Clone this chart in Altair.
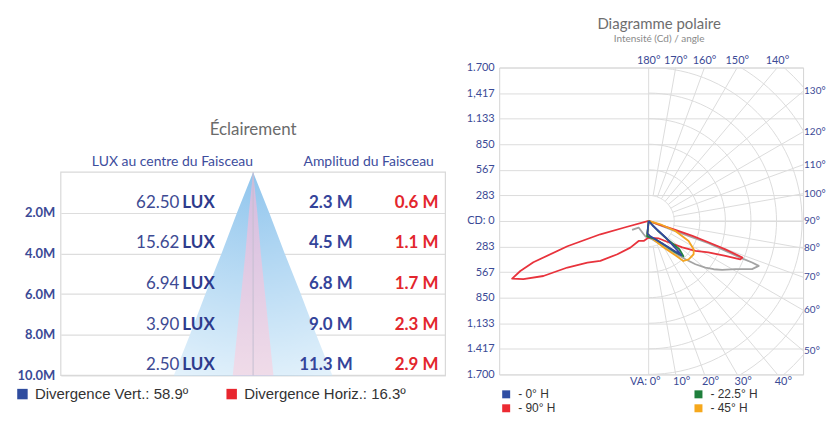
import json
import altair as alt
import pandas as pd
import numpy as np

# ---------------- Left panel: Éclairement ----------------
DIST_M = [2, 4, 6, 8, 10]
LUX_CENTRE = ["62.50", "15.62", "6.94", "3.90", "2.50"]
AMP_VERT_M = [2.3, 4.5, 6.8, 9.0, 11.3]
AMP_HORIZ_M = [0.6, 1.1, 1.7, 2.3, 2.9]
DIV_LABELS = ["Divergence Vert.: 58.9º", "Divergence Horiz.: 16.3º"]
DIV_COLORS = ["#2f4c9f", "#e8262e"]
HEADERS = ["LUX au centre du Faisceau", "Amplitud du Faisceau"]

# ---------------- Right panel: Diagramme polaire ----------------
CD_MAX = 1700
CD_TICK_LABELS = ["1.700", "1.417", "1,133", "850", "567", "283", "CD: 0",
                  "283", "567", "850", "1.133", "1,417", "1.700"]  # bottom -> top
TOP_ANG = [180, 170, 160, 150, 140]
TOP_LBL = ["180°", "170°", "160°", "150°", "140°"]
RIGHT_ANG = [130, 120, 110, 100, 90, 80, 70, 60, 50]
RIGHT_LBL = ["130°", "120°", "110°", "100°", "90°", "80°", "70°", "60°", "50°"]
BOTTOM_ANG = [0, 10, 20, 30, 40]
BOTTOM_LBL = ["VA: 0°", "10°", "20°", "30°", "40°"]
RADIAL_DEG = list(range(0, 181, 10))
N_RINGS = 8

SERIES = ["- 0° H", "- 22.5° H", "- 90° H", "- 45° H", "autre"]
SERIES_COLORS = ["#34489e", "#23843f", "#e8333c", "#f4a521", "#a3a3a3"]
LEGEND_SERIES = SERIES[:4]
LEGEND_COLORS = ["#2f4ea3", "#1f7f3c", "#ec2a32", "#f6a81c"]

# polar curves: angle (deg, from nadir, negative = left half) and intensity (cd)
GREY_ANG = [-61.5, -56.6, -20.6, -12.2, 10.5, 21.5, 32.4, 39.6, 43.8, 47.2, 50.6, 53.4,
            56.3, 60.9, 65.0, 67.8, 68.1, 68.2, 69.5, 68.9, 90]
GREY_CD = [209, 133, 157, 174, 206, 254, 345, 464, 588, 706, 813, 897,
           978, 1099, 1264, 1317, 1235, 1114, 706, 317, 0]
RED_ANG = [-90, -74.9, -74.6, -72.7, -70.3, -68.7, -67.1, -65.1, -62.4, -60.2, -55.8,
           -50.4, -43.2, -34.5, -26.6, -14, 0, 29.3, 42.8, 52, 57.3, 62.3, 65.5, 67.3,
           68.7, 69.7, 70.4, 71.1, 71.4, 71.2, 90]
RED_CD = [0, 267, 555, 943, 1357, 1526, 1642, 1531, 1316, 1038, 821,
          695, 506, 358, 248, 228, 184, 220, 321, 474, 615, 747, 934, 1101,
          1115, 906, 702, 512, 312, 114, 0]
ORANGE_ANG = [0, -5.2, 14.4, 29.2, 37.9, 40.9, 46.2, 53.5, 57.8, 63.4, 69.5, 74.2, 0]
ORANGE_CD = [0, 160, 209, 334, 482, 587, 614, 620, 589, 495, 316, 135, 0]
GREEN_ANG = [0, -6, 20.1, 35, 40.5, 44.5, 47.3, 45.6, 43.1, 0]
GREEN_CD = [0, 171, 216, 342, 456, 549, 463, 290, 141, 0]
BLUE_ANG = [0, 40.7, 45.7, 44.4, 43.6, 40.1, 28.8, 6.3, -6, 0]
BLUE_CD = [0, 63, 258, 470, 525, 425, 269, 171, 137, 0]

# ---------------- styling ----------------
BLUE_TXT = "#34449a"
RED_TXT = "#e3262d"
AXIS_BLUE = "#3b4a96"
GRID = "#dcdcdc"

LEFT_W, LEFT_H = 386, 309
RIGHT_W, RIGHT_H = 305, 308

# ================= LEFT CHART =================
x_l = alt.Scale(domain=[-13.7, 13.7], nice=False, zero=False)
y_l = alt.Scale(domain=[0, 10], range=[105, 309], nice=False, zero=False)
ax_l = alt.Axis(values=DIST_M, labelExpr="format(datum.value, '.1f') + 'M'", grid=True,
                gridColor="#dddddd", gridWidth=1.2, domain=False, ticks=False,
                labelPadding=6, labelFont="Lato", labelFontSize=13,
                labelFontWeight="bold", labelColor=AXIS_BLUE, title=None)


def Yl(f):
    return alt.Y(f, scale=y_l, axis=ax_l)


def Xl(f):
    return alt.X(f, scale=x_l, axis=None)


tri = pd.DataFrame({
    "depth": [0] + DIST_M,
    "amp_v": [0] + AMP_VERT_M,
    "amp_h": [0] + AMP_HORIZ_M,
})
rows = pd.DataFrame({
    "dist": DIST_M,
    "lux": LUX_CENTRE,
    "amp_v": [f"{v:.1f} M" for v in AMP_VERT_M],
    "amp_h": [f"{v:.1f} M" for v in AMP_HORIZ_M],
})
box_df = pd.DataFrame({"top": [0], "bottom": [max(DIST_M)]})

box = alt.Chart(box_df).mark_rect(fillOpacity=0, stroke="#d9d9d9", strokeWidth=1.2).encode(
    y=Yl("top:Q"), y2="bottom:Q", x=alt.value(0), x2=alt.value(LEFT_W))

blue_grad = alt.RadialGradient(gradient="radial", x1=0.5, y1=0, r1=0, x2=0.5, y2=0, r2=1.05,
                               stops=[alt.GradientStop(offset=0, color="#90c5ed"),
                                      alt.GradientStop(offset=1, color="#e2f1fb")])
pink_grad = alt.RadialGradient(gradient="radial", x1=0.5, y1=0, r1=0, x2=0.5, y2=0, r2=1.05,
                               stops=[alt.GradientStop(offset=0, color="#d3bade"),
                                      alt.GradientStop(offset=1, color="#f1dde9")])

tri_v = alt.Chart(tri).transform_calculate(
    xl="-datum.amp_v / 2", xr="datum.amp_v / 2"
).mark_area(orient="horizontal", color=blue_grad).encode(
    y=Yl("depth:Q"), x=Xl("xl:Q"), x2="xr:Q")
tri_h = alt.Chart(tri).transform_calculate(
    xl="-datum.amp_h / 2", xr="datum.amp_h / 2"
).mark_area(orient="horizontal", color=pink_grad).encode(
    y=Yl("depth:Q"), x=Xl("xl:Q"), x2="xr:Q")
axis_line = alt.Chart(tri).transform_calculate(c="0").mark_line(
    color="#c4bfd2", strokeWidth=1).encode(y=Yl("depth:Q"), x=Xl("c:Q"))

lux_num = alt.Chart(rows).mark_text(align="right", baseline="alphabetic", dy=-5,
                                    font="Lato", fontSize=17, color="#3d4a93").encode(
    y=Yl("dist:Q"), x=alt.value(119), text="lux:N")
lux_unit = alt.Chart(rows).mark_text(align="left", baseline="alphabetic", dy=-5,
                                     font="Lato", fontSize=17, fontWeight="bold",
                                     color="#2e3b8c").encode(
    y=Yl("dist:Q"), x=alt.value(122), text=alt.value("LUX"))
amp_v_txt = alt.Chart(rows).mark_text(align="right", baseline="alphabetic", dy=-5,
                                      font="Lato", fontSize=17, fontWeight="bold",
                                      color=BLUE_TXT).encode(
    y=Yl("dist:Q"), x=alt.value(293), text="amp_v:N")
amp_h_txt = alt.Chart(rows).mark_text(align="right", baseline="alphabetic", dy=-5,
                                      font="Lato", fontSize=17, fontWeight="bold",
                                      color=RED_TXT).encode(
    y=Yl("dist:Q"), x=alt.value(379), text="amp_h:N")

hdr_df = pd.DataFrame({"h": HEADERS})
hdr1 = alt.Chart(hdr_df).transform_filter(alt.datum.h == HEADERS[0]).mark_text(
    font="Lato", fontSize=14, color="#3d4d9d", baseline="middle").encode(
    x=alt.value(112), y=alt.value(95), text="h:N")
hdr2 = alt.Chart(hdr_df).transform_filter(alt.datum.h == HEADERS[1]).mark_text(
    font="Lato", fontSize=14, color="#3d4d9d", baseline="middle").encode(
    x=alt.value(309), y=alt.value(95), text="h:N")
ttl_l = alt.Chart(pd.DataFrame({"t": ["Éclairement"]})).mark_text(
    font="Lato", fontSize=17, color="#6b6b6b", baseline="middle").encode(
    x=alt.value(LEFT_W / 2), y=alt.value(63), text="t:N")

leg_l = alt.Chart(pd.DataFrame({"lbl": DIV_LABELS})).mark_square(opacity=0).encode(
    fill=alt.Fill("lbl:N", scale=alt.Scale(domain=DIV_LABELS, range=DIV_COLORS),
                  legend=alt.Legend(orient="none", legendX=-46, legendY=320,
                                    direction="horizontal", title=None,
                                    symbolType="square", symbolSize=110,
                                    symbolOpacity=1, symbolStrokeWidth=0,
                                    labelFont="Liberation Sans", labelFontSize=15,
                                    labelColor="#333333", columnPadding=36,
                                    labelLimit=400, padding=0, labelOffset=5)))

left = alt.layer(box, tri_v, tri_h, axis_line, lux_num, lux_unit, amp_v_txt, amp_h_txt,
                 hdr1, hdr2, ttl_l, leg_l).properties(
    width=LEFT_W, height=LEFT_H, view=alt.ViewBackground(stroke=None))

# ================= RIGHT CHART =================
X_MIN, X_MAX = -1656, 1711
x_r = alt.Scale(domain=[X_MIN, X_MAX], nice=False, zero=False)
y_r = alt.Scale(domain=[-CD_MAX, CD_MAX], nice=False, zero=False)
step = CD_MAX / 6
tick_vals = [k * step for k in range(-6, 7)]
ax_r = alt.Axis(values=tick_vals,
                labelExpr=json.dumps(CD_TICK_LABELS) + f"[round(datum.value / {step} + 6)]",
                grid=True, gridColor=GRID, gridWidth=1, domain=False, ticks=False,
                labelPadding=5, labelFont="Lato", labelFontSize=11,
                labelColor=AXIS_BLUE, title=None)


def Yr(f):
    return alt.Y(f, scale=y_r, axis=ax_r)


def Xr(f):
    return alt.X(f, scale=x_r, axis=None)


ring_rows = []
for k in range(1, N_RINGS + 1):
    for a in range(0, 181, 3):
        ring_rows.append({"ring": k, "a": a, "r": k * step})
rings_df = pd.DataFrame(ring_rows)
rings = alt.Chart(rings_df).transform_calculate(
    x="datum.r * sin(datum.a * PI / 180)", y="-datum.r * cos(datum.a * PI / 180)"
).mark_line(clip=True, color=GRID, strokeWidth=1).encode(
    x=Xr("x:Q"), y=Yr("y:Q"), detail="ring:N", order="a:Q")

rad_df = pd.DataFrame({"a": RADIAL_DEG})
radials = alt.Chart(rad_df).transform_calculate(
    r0=f"(datum.a % 90 == 0) ? 0 : {step}", r1=f"{4 * CD_MAX}"
).transform_calculate(
    x="datum.r0 * sin(datum.a * PI / 180)", y="-datum.r0 * cos(datum.a * PI / 180)",
    x2="datum.r1 * sin(datum.a * PI / 180)", y2="-datum.r1 * cos(datum.a * PI / 180)"
).mark_rule(clip=True, color=GRID, strokeWidth=1).encode(
    x=Xr("x:Q"), y=Yr("y:Q"), x2="x2:Q", y2="y2:Q")

curve_rows = []
for name, angs, cds in [("autre", GREY_ANG, GREY_CD), ("- 90° H", RED_ANG, RED_CD),
                        ("- 45° H", ORANGE_ANG, ORANGE_CD), ("- 22.5° H", GREEN_ANG, GREEN_CD),
                        ("- 0° H", BLUE_ANG, BLUE_CD)]:
    for i, (a, c) in enumerate(zip(angs, cds)):
        curve_rows.append({"serie": name, "i": i, "a": a, "cd": c})
curves_df = pd.DataFrame(curve_rows)
curves = alt.Chart(curves_df).transform_calculate(
    x="datum.cd * sin(datum.a * PI / 180)", y="-datum.cd * cos(datum.a * PI / 180)"
).mark_line(strokeWidth=1.8, clip=True, strokeJoin="round").encode(
    x=Xr("x:Q"), y=Yr("y:Q"),
    color=alt.Color("serie:N", scale=alt.Scale(domain=SERIES, range=SERIES_COLORS), legend=None),
    detail="serie:N", order="i:Q")

lbl_style = dict(font="Lato", fontSize=11, color=AXIS_BLUE)
top_lbl = alt.Chart(pd.DataFrame({"a": TOP_ANG, "t": TOP_LBL})).transform_calculate(
    x=f"-{CD_MAX} * tan(datum.a * PI / 180)", y=f"{CD_MAX}"
).mark_text(align="center", baseline="middle", dy=-7, **lbl_style).encode(
    x=Xr("x:Q"), y=Yr("y:Q"), text="t:N")
right_lbl = alt.Chart(pd.DataFrame({"a": RIGHT_ANG, "t": RIGHT_LBL})).transform_calculate(
    x=f"{X_MAX}", y=f"-{X_MAX} / tan(datum.a * PI / 180)"
).mark_text(align="left", baseline="middle", dx=1, font="Lato", fontSize=10,
            color=AXIS_BLUE).encode(
    x=Xr("x:Q"), y=Yr("y:Q"), text="t:N")
bot_df = pd.DataFrame({"a": BOTTOM_ANG, "t": BOTTOM_LBL})
bot_lbl = alt.Chart(bot_df).transform_filter("datum.a > 0").transform_calculate(
    x=f"{CD_MAX} * tan(datum.a * PI / 180)", y=f"-{CD_MAX}"
).mark_text(align="center", baseline="middle", dy=8, dx=6, **lbl_style).encode(
    x=Xr("x:Q"), y=Yr("y:Q"), text="t:N")
bot0_lbl = alt.Chart(bot_df).transform_filter("datum.a == 0").transform_calculate(
    x=f"{CD_MAX} * tan(datum.a * PI / 180)", y=f"-{CD_MAX}"
).mark_text(align="right", baseline="middle", dy=8, dx=12, **lbl_style).encode(
    x=Xr("x:Q"), y=Yr("y:Q"), text="t:N")

leg_r = alt.Chart(pd.DataFrame({"serie": LEGEND_SERIES})).mark_square(opacity=0).encode(
    fill=alt.Fill("serie:N", scale=alt.Scale(domain=LEGEND_SERIES, range=LEGEND_COLORS),
                  legend=alt.Legend(orient="none", legendX=1, legendY=322, columns=2,
                                    direction="horizontal", title=None,
                                    symbolType="square", symbolSize=64, symbolOpacity=1,
                                    symbolStrokeWidth=0, labelFont="Liberation Sans",
                                    labelFontSize=12, labelColor="#333333",
                                    columnPadding=137, rowPadding=2, padding=0,
                                    labelOffset=6)))

right = alt.layer(rings, radials, curves, top_lbl, right_lbl, bot_lbl, bot0_lbl, leg_r).properties(
    width=RIGHT_W, height=RIGHT_H, view=alt.ViewBackground(stroke="#d4d4d4"),
    title=alt.TitleParams("Diagramme polaire", subtitle="Intensité (Cd) / angle",
                          anchor="middle", frame="group", dx=8, offset=11,
                          font="Lato", fontSize=15, fontWeight="normal", color="#6e6e6e",
                          subtitleFont="Lato", subtitleFontSize=10, subtitleColor="#8a8a8a",
                          subtitlePadding=2))

chart = alt.hconcat(left, right, spacing=54, bounds="flush").resolve_scale(
    fill="independent", color="independent", x="independent", y="independent"
).resolve_legend(fill="independent", color="independent").properties(
    padding={"left": 7, "top": 7, "right": 0, "bottom": -2}
).configure(font="Lato").configure_view(stroke=None)

chart.save("out.html", embed_options={"renderer": "svg", "actions": False})
